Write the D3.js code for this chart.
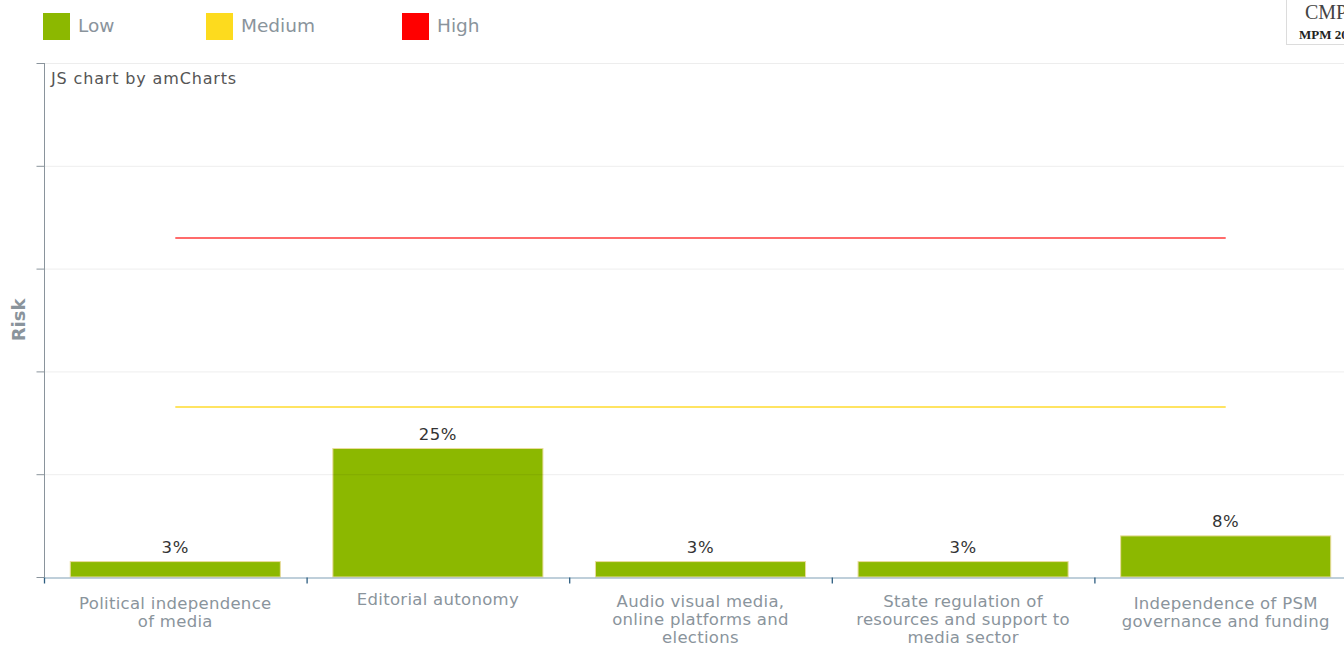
<!DOCTYPE html>
<html>
<head>
<meta charset="utf-8">
<script src="https://cdn.jsdelivr.net/npm/d3@7"></script>
<style>
  html, body { margin: 0; padding: 0; background: #fff; overflow: hidden; }
  svg { display: block; font-family: "DejaVu Sans", Verdana, sans-serif; }
</style>
</head>
<body>
<svg id="chart" width="1344" height="646"></svg>
<script>
// Risk scores per area (percent)
const categories = [
  ["Political independence", "of media"],
  ["Editorial autonomy"],
  ["Audio visual media,", "online platforms and", "elections"],
  ["State regulation of", "resources and support to", "media sector"],
  ["Independence of PSM", "governance and funding"]
];
const values = [3, 25, 3, 3, 8];
const valueLabels = ["3%", "25%", "3%", "3%", "8%"];

// Risk band thresholds
const thresholdNames = ["Medium", "High"];
const thresholdValues = [33, 66];

const legendNames = ["Low", "Medium", "High"];
const legendColors = ["#8cb800", "#fddb1e", "#ff0000"];
const thresholdColors = ["#ffdb2e", "#ff3a3a"];

const yTicks = [0, 20, 40, 60, 80, 100];

const svg = d3.select("#chart");
const margin = { left: 44, top: 63, bottom: 577 };
const plotRight = 44 + 5 * 262.6;

const x = d3.scaleBand()
  .domain(d3.range(categories.length))
  .range([margin.left, plotRight])
  .padding(0);
const y = d3.scaleLinear().domain([0, 100]).range([margin.bottom, margin.top]);

const barW = x.bandwidth() * 0.8;

// Bars
svg.append("g").selectAll("rect")
  .data(values)
  .join("rect")
  .attr("x", (d, i) => x(i) + (x.bandwidth() - barW) / 2)
  .attr("y", d => y(d))
  .attr("width", barW)
  .attr("height", d => y(0) - y(d))
  .attr("fill", legendColors[0])
  .attr("stroke", "#e9dc9c")
  .attr("stroke-width", 1);

// Grid lines (drawn on top of the bars, faint)
svg.append("g").selectAll("line")
  .data(yTicks.slice(1))
  .join("line")
  .attr("x1", margin.left).attr("x2", 1344)
  .attr("y1", d => y(d) + 0.5).attr("y2", d => y(d) + 0.5)
  .attr("stroke", "#000")
  .attr("stroke-opacity", 0.07);

// Threshold lines
const xCenter = i => x(i) + x.bandwidth() / 2;
svg.append("g").selectAll("line")
  .data(thresholdValues)
  .join("line")
  .attr("x1", xCenter(0)).attr("x2", xCenter(categories.length - 1))
  .attr("y1", d => Math.round(y(d)))
  .attr("y2", d => Math.round(y(d)))
  .attr("stroke", (d, i) => thresholdColors[i])
  .attr("stroke-width", 1.6);

// Y axis (no labels)
const yAxis = svg.append("g")
  .attr("transform", `translate(${margin.left + 0.5},0)`)
  .call(d3.axisLeft(y).tickValues(yTicks).tickSize(8).tickFormat(""));
yAxis.select(".domain").attr("stroke", "#8a949c").attr("d", `M-0,${y(100)}V${y(0)}`);
yAxis.selectAll(".tick line").attr("stroke", "#8a949c");

// X axis
const xAxisScale = d3.scaleLinear().domain([0, categories.length]).range([margin.left, plotRight]);
const xAxis = svg.append("g")
  .attr("transform", `translate(0,${margin.bottom + 0.5})`)
  .call(d3.axisBottom(xAxisScale).tickValues(d3.range(categories.length + 1)).tickSize(6).tickFormat("").tickSizeOuter(0));
xAxis.select(".domain").attr("stroke", "#7f9fb5");
xAxis.selectAll(".tick line").attr("stroke", "#2d5d80").attr("stroke-width", 1.3);

// Category labels
const labelG = svg.append("g");
categories.forEach((lines, i) => {
  const t = labelG.append("text")
    .attr("x", xCenter(i))
    .attr("y", lines.length === 1 ? 605 : (lines.length === 2 ? 608.5 : 607))
    .attr("text-anchor", "middle")
    .attr("fill", "#8a949c")
    .attr("font-size", "16.5px")
    .attr("letter-spacing", "0.3px");
  lines.forEach((ln, k) => {
    t.append("tspan").attr("x", xCenter(i)).attr("dy", k === 0 ? 0 : 18).text(ln);
  });
});

// Value labels
svg.append("g").selectAll("text")
  .data(values)
  .join("text")
  .attr("x", (d, i) => xCenter(i))
  .attr("y", d => y(d) - 8.5)
  .attr("text-anchor", "middle")
  .attr("fill", "#333")
  .attr("font-size", "16.5px")
  .attr("letter-spacing", "0.6px")
  .text((d, i) => valueLabels[i]);

// Y axis title
svg.append("text")
  .attr("transform", `translate(25,320) rotate(-90)`)
  .attr("text-anchor", "middle")
  .attr("fill", "#8a949c")
  .attr("font-weight", "bold")
  .attr("font-size", "18px")
  .text("Risk");

// Credit
svg.append("text")
  .attr("x", 51).attr("y", 84)
  .attr("fill", "#555")
  .attr("font-size", "16px")
  .attr("letter-spacing", "0.85px")
  .text("JS chart by amCharts");

// Legend
const legendX = [43, 206, 402];
const legend = svg.append("g");
legendNames.forEach((name, i) => {
  legend.append("rect")
    .attr("x", legendX[i]).attr("y", 13)
    .attr("width", 27).attr("height", 27)
    .attr("fill", legendColors[i]);
  legend.append("text")
    .attr("x", legendX[i] + 35).attr("y", 32)
    .attr("fill", "#8a949c")
    .attr("font-size", "18.5px")
    .text(name);
});

// Logo box in the corner (runs past the right edge)
const logo = svg.append("g");
logo.append("rect")
  .attr("x", 1286.5).attr("y", -1).attr("width", 80).attr("height", 45.5)
  .attr("fill", "#fff").attr("stroke", "#dcdcdc");
logo.append("text")
  .attr("x", 1305).attr("y", 19)
  .attr("font-family", "Liberation Serif, serif")
  .attr("font-size", "20px")
  .attr("fill", "#444")
  .text("CMPF");
logo.append("text")
  .attr("x", 1299).attr("y", 39)
  .attr("font-family", "Liberation Serif, serif")
  .attr("font-weight", "bold")
  .attr("font-size", "13px")
  .attr("fill", "#222")
  .text("MPM 2022");
</script>
</body>
</html>
